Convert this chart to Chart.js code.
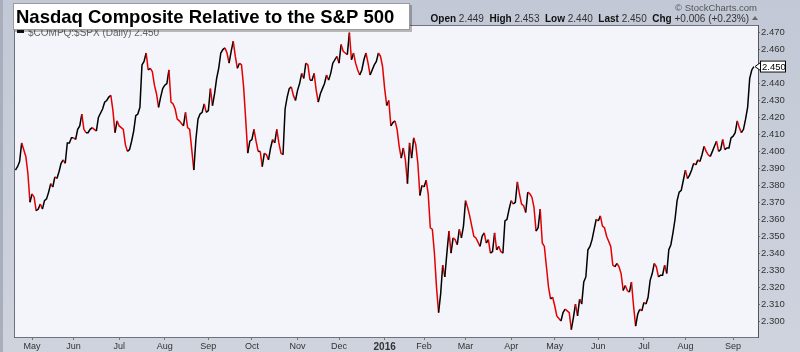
<!DOCTYPE html>
<html>
<head>
<meta charset="utf-8">
<title>Nasdaq Composite Relative to the S&amp;P 500</title>
<script src="https://cdn.jsdelivr.net/npm/chart.js@4.4.1/dist/chart.umd.min.js"></script>
<style>
    html, body { margin: 0; padding: 0; background: #c9ced9; }
    #wrap { width: 800px; height: 352px; }
</style>
</head>
<body>
<div id="wrap"><canvas id="ratioChart" width="800" height="352"></canvas></div>
<script>
/**=================
 * Data
 =================*/
// trading-day number, 0 = 1 May 2015
const sessions = [
    -8, -7, -6, -5, -3, -2, -1, 0, 1, 2,
    3, 4, 5, 6, 7, 8, 9, 10, 11, 12,
    13, 14, 15, 16, 17, 18, 19, 20, 21, 22,
    23, 24, 25, 26, 27, 28, 29, 30, 31, 32,
    34, 35, 36, 37, 38, 39, 40, 41, 42, 43,
    44, 45, 46, 47, 48, 49, 50, 51, 52, 53,
    54, 55, 56, 57, 58, 59, 60, 61, 62, 63,
    64, 65, 66, 67, 68, 69, 70, 71, 73, 74,
    75, 76, 77, 78, 79, 80, 81, 82, 83, 84,
    85, 86, 87, 88, 89, 90, 91, 92, 93, 94,
    95, 96, 97, 98, 99, 100, 101, 102, 103, 104,
    105, 106, 107, 108, 109, 110, 111, 112, 113, 114,
    115, 116, 117, 118, 119, 120, 121, 122, 123, 124,
    125, 126, 127, 128, 129, 130, 131, 132, 133, 134,
    135, 136, 137, 138, 139, 140, 141, 142, 143, 144,
    145, 147, 148, 149, 150, 151, 152, 153, 154, 155,
    156, 157, 158, 159, 160, 161, 162, 163, 165, 166,
    167, 168, 169, 170, 171, 172, 173, 174, 175, 176,
    177, 178, 179, 180, 181, 182, 183, 184, 185, 186,
    187, 188, 189, 190, 191, 192, 193, 194, 195, 196,
    197, 198, 199, 200, 201, 202, 203, 204, 205, 206,
    207, 208, 209, 210, 211, 212, 213, 214, 216, 217,
    218, 219, 220, 221, 222, 223, 224, 225, 226, 227,
    228, 229, 230, 231, 232, 233, 234, 235, 236, 237,
    238, 239, 240, 241, 242, 243, 244, 245, 246, 247,
    248, 249, 250, 251, 252, 253, 255, 256, 257, 258,
    259, 260, 261, 262, 263, 264, 265, 266, 267, 268,
    269, 270, 271, 272, 273, 274, 275, 276, 277, 278,
    279, 280, 281, 282, 283, 284, 285, 286, 287, 288,
    289, 290, 291, 292, 293, 294, 295, 296, 297, 298,
    299, 300, 301, 302, 303, 304, 305, 306, 307, 308,
    309, 310, 311, 312, 313, 314, 315, 316, 317, 318,
    319, 320, 321, 322, 323, 324, 325, 326, 327, 328,
    329, 330, 331, 332, 333, 334, 335, 336, 337, 338,
    339, 340, 341, 342, 343, 344, 345, 346, 347, 348
];

// $COMPQ:$SPX close
const ratio = [
    2.389, 2.391, 2.394, 2.405, 2.397, 2.387, 2.370, 2.375, 2.373, 2.365,
    2.366, 2.369, 2.366, 2.371, 2.372, 2.376, 2.381, 2.379, 2.385, 2.384,
    2.388, 2.393, 2.395, 2.393, 2.405, 2.405, 2.408, 2.408, 2.407, 2.413,
    2.415, 2.422, 2.413, 2.411, 2.411, 2.413, 2.414, 2.413, 2.412, 2.420,
    2.425, 2.429, 2.430, 2.432, 2.433, 2.424, 2.411, 2.418, 2.415, 2.414,
    2.413, 2.404, 2.400, 2.401, 2.406, 2.412, 2.421, 2.422, 2.426, 2.451,
    2.453, 2.458, 2.448, 2.449, 2.447, 2.439, 2.434, 2.426, 2.432, 2.437,
    2.439, 2.440, 2.448, 2.429, 2.428, 2.425, 2.419, 2.418, 2.415, 2.423,
    2.414, 2.413, 2.401, 2.389, 2.407, 2.419, 2.422, 2.423, 2.428, 2.423,
    2.424, 2.437, 2.427, 2.434, 2.443, 2.449, 2.458, 2.460, 2.461, 2.458,
    2.452, 2.459, 2.465, 2.456, 2.449, 2.452, 2.451, 2.438, 2.419, 2.399,
    2.406, 2.407, 2.413, 2.406, 2.400, 2.400, 2.391, 2.399, 2.398, 2.395,
    2.402, 2.407, 2.405, 2.413, 2.405, 2.399, 2.398, 2.425, 2.432, 2.437,
    2.438, 2.433, 2.430, 2.436, 2.440, 2.446, 2.443, 2.452, 2.451, 2.442,
    2.442, 2.446, 2.436, 2.429, 2.434, 2.437, 2.440, 2.445, 2.442, 2.446,
    2.452, 2.456, 2.452, 2.463, 2.459, 2.458, 2.457, 2.470, 2.454, 2.458,
    2.452, 2.448, 2.445, 2.448, 2.454, 2.458, 2.452, 2.445, 2.451, 2.453,
    2.458, 2.456, 2.450, 2.437, 2.427, 2.430, 2.415, 2.417, 2.418, 2.413,
    2.403, 2.396, 2.402, 2.395, 2.381, 2.405, 2.396, 2.408, 2.404, 2.393,
    2.374, 2.380, 2.379, 2.383, 2.375, 2.355, 2.354, 2.340, 2.320, 2.305,
    2.316, 2.333, 2.326, 2.340, 2.353, 2.340, 2.349, 2.348, 2.345, 2.354,
    2.349, 2.356, 2.371, 2.367, 2.362, 2.356, 2.350, 2.349, 2.344, 2.350,
    2.352, 2.346, 2.348, 2.340, 2.341, 2.352, 2.342, 2.344, 2.341, 2.340,
    2.359, 2.360, 2.366, 2.371, 2.369, 2.370, 2.382, 2.375, 2.369, 2.368,
    2.364, 2.376, 2.375, 2.373, 2.367, 2.353, 2.355, 2.366, 2.346, 2.344,
    2.332, 2.320, 2.313, 2.314, 2.309, 2.303, 2.300, 2.305, 2.307, 2.306,
    2.305, 2.295, 2.302, 2.310, 2.303, 2.313, 2.310, 2.323, 2.326, 2.342,
    2.344, 2.348, 2.354, 2.360, 2.359, 2.362, 2.356, 2.355, 2.350, 2.347,
    2.344, 2.333, 2.332, 2.334, 2.332, 2.328, 2.318, 2.321, 2.318, 2.317,
    2.323, 2.309, 2.297, 2.304, 2.307, 2.306, 2.311, 2.310, 2.314, 2.324,
    2.328, 2.334, 2.332, 2.326, 2.327, 2.327, 2.333, 2.328, 2.342, 2.345,
    2.352, 2.360, 2.371, 2.376, 2.377, 2.383, 2.389, 2.384, 2.386, 2.389,
    2.393, 2.392, 2.395, 2.394, 2.398, 2.403, 2.400, 2.398, 2.397, 2.400,
    2.403, 2.406, 2.400, 2.401, 2.407, 2.401, 2.402, 2.402, 2.408, 2.409,
    2.411, 2.418, 2.414, 2.411, 2.413, 2.419, 2.426, 2.443, 2.448, 2.450
];

// first session of each month
const monthStarts = [0, 20, 42, 64, 85, 106, 128, 148, 170, 189, 209, 231, 252, 273, 295, 315, 338];
const monthLabels = ['May', 'Jun', 'Jul', 'Aug', 'Sep', 'Oct', 'Nov', 'Dec', '2016',
    'Feb', 'Mar', 'Apr', 'May', 'Jun', 'Jul', 'Aug', 'Sep'];
const priceTicks = [2.30, 2.31, 2.32, 2.33, 2.34, 2.35, 2.36, 2.37, 2.38,
    2.39, 2.40, 2.41, 2.42, 2.43, 2.44, 2.45, 2.46, 2.47];

const quote = [['Open', '2.449'], ['High', '2.453'], ['Low', '2.440'], ['Last', '2.450'], ['Chg', '+0.006 (+0.23%)']];
const lastValue = 2.450;

const RED = '#e40000';
const FONT = "'Liberation Sans', Arial, sans-serif";
Chart.defaults.font.family = FONT;

/**=================
 * Frame + overlays
 =================*/
const stockFrame = {
    id: 'stockFrame',
    beforeDraw(chart) {
        const { ctx, chartArea: a, width, height } = chart;
        ctx.save();
        const g = ctx.createLinearGradient(0, 0, 0, height);
        g.addColorStop(0, '#c2c8d5');
        g.addColorStop(1, '#ced3de');
        ctx.fillStyle = g;
        ctx.fillRect(0, 0, width, height);
        ctx.fillStyle = '#a8aebb';
        ctx.fillRect(0, 0, 3, height);
        ctx.fillStyle = '#f4f5fa';
        ctx.fillRect(a.left, a.top, a.right - a.left, a.bottom - a.top);
        ctx.restore();
    },
    afterDraw(chart) {
        const { ctx, chartArea: a, scales } = chart;
        ctx.save();

        // plot border (left + top)
        ctx.strokeStyle = '#6d727c';
        ctx.lineWidth = 1;
        ctx.beginPath();
        ctx.moveTo(a.left + 0.5, a.bottom);
        ctx.lineTo(a.left + 0.5, a.top + 0.5);
        ctx.lineTo(a.right, a.top + 0.5);
        ctx.stroke();

        // legend
        ctx.fillStyle = '#111';
        ctx.fillRect(17, 30, 7, 3);
        ctx.fillStyle = '#666';
        ctx.font = `10px ${FONT}`;
        ctx.textBaseline = 'alphabetic';
        ctx.fillText('$COMPQ:$SPX (Daily) 2.450', 28, 36);

        // title box
        ctx.fillStyle = 'rgba(0,0,0,0.25)';
        ctx.fillRect(15, 5, 397, 27);
        ctx.fillStyle = '#fff';
        ctx.fillRect(13, 3, 397, 27);
        ctx.strokeStyle = '#9a9a9a';
        ctx.strokeRect(13.5, 3.5, 396, 26);
        ctx.fillStyle = '#000';
        ctx.font = `bold 18.5px ${FONT}`;
        ctx.fillText('Nasdaq Composite Relative to the S&P 500', 16, 23);

        // header, top right
        ctx.fillStyle = '#555';
        ctx.font = `9.5px ${FONT}`;
        ctx.textAlign = 'right';
        ctx.fillText('\u00A9 StockCharts.com', 757, 11);
        ctx.textAlign = 'left';
        const parts = [];
        quote.forEach(([k, v], i) => {
            parts.push([k, true]);
            parts.push([' ' + v + (i < quote.length - 1 ? '  ' : ''), false]);
        });
        let total = 0;
        parts.forEach(([t, b]) => {
            ctx.font = `${b ? 'bold ' : ''}10px ${FONT}`;
            total += ctx.measureText(t).width;
        });
        let x = 749 - total;
        parts.forEach(([t, b]) => {
            ctx.font = `${b ? 'bold ' : ''}10px ${FONT}`;
            ctx.fillStyle = b ? '#111' : '#333';
            ctx.fillText(t, x, 21.5);
            x += ctx.measureText(t).width;
        });
        ctx.fillStyle = '#666';
        ctx.beginPath();
        ctx.moveTo(752, 20);
        ctx.lineTo(758, 20);
        ctx.lineTo(755, 16);
        ctx.closePath();
        ctx.fill();

        // last value marker on price axis
        const y = scales.y.getPixelForValue(lastValue);
        ctx.fillStyle = '#fff';
        ctx.fillRect(760, y - 6, 26, 12);
        ctx.strokeStyle = '#000';
        ctx.strokeRect(760.5, y - 5.5, 25, 11);
        ctx.beginPath();
        ctx.moveTo(755, y);
        ctx.lineTo(760.5, y - 4);
        ctx.lineTo(760.5, y + 4);
        ctx.closePath();
        ctx.fillStyle = '#fff';
        ctx.fill();
        ctx.stroke();
        ctx.fillStyle = '#000';
        ctx.font = `9.5px ${FONT}`;
        ctx.textBaseline = 'middle';
        ctx.fillText(lastValue.toFixed(3), 762, y + 0.5);
        ctx.restore();
    }
};

/**=================
 * Ratio Chart
 =================*/
const ratioCtx = document.getElementById('ratioChart');
const ratioChart = new Chart(ratioCtx, {
    type: 'line',
    data: {
        datasets: [{
            label: '$COMPQ:$SPX',
            data: sessions.map((d, i) => ({ x: d, y: ratio[i] })),
            borderColor: '#000',
            borderWidth: 1.5,
            pointRadius: 0,
            tension: 0,
            segment: {
                borderColor: c => c.p1.parsed.y < c.p0.parsed.y ? RED : '#000'
            }
        }]
    },
    options: {
        responsive: false,
        animation: false,
        events: [],
        layout: { padding: { left: 14, top: 25, right: 0, bottom: 0 } },
        plugins: {
            legend: { display: false },
            tooltip: { enabled: false }
        },
        scales: {
            x: {
                type: 'linear',
                min: -8.7,
                max: 350,
                afterBuildTicks: s => { s.ticks = monthStarts.map(value => ({ value })); },
                afterFit: s => { s.height = 15; },
                grid: { drawOnChartArea: false, tickLength: 3, color: '#777' },
                border: { color: '#6d727c' },
                ticks: {
                    autoSkip: false,
                    maxRotation: 0,
                    padding: 1,
                    color: '#333',
                    font: c => ({ size: c.index === 8 ? 10 : 9, weight: c.index === 8 ? 'bold' : 'normal' }),
                    callback: (v, i) => monthLabels[i]
                }
            },
            y: {
                position: 'right',
                min: 2.2906,
                max: 2.4745,
                afterBuildTicks: s => { s.ticks = priceTicks.map(value => ({ value })); },
                afterFit: s => { s.width = 42; },
                grid: { drawOnChartArea: false, tickLength: 2, color: '#777' },
                border: { color: '#555', dash: [1, 1] },
                ticks: {
                    autoSkip: false,
                    padding: 1,
                    color: '#333',
                    font: { size: 9.5 },
                    callback: v => v.toFixed(3)
                }
            }
        }
    },
    plugins: [stockFrame]
});
</script>
</body>
</html>
